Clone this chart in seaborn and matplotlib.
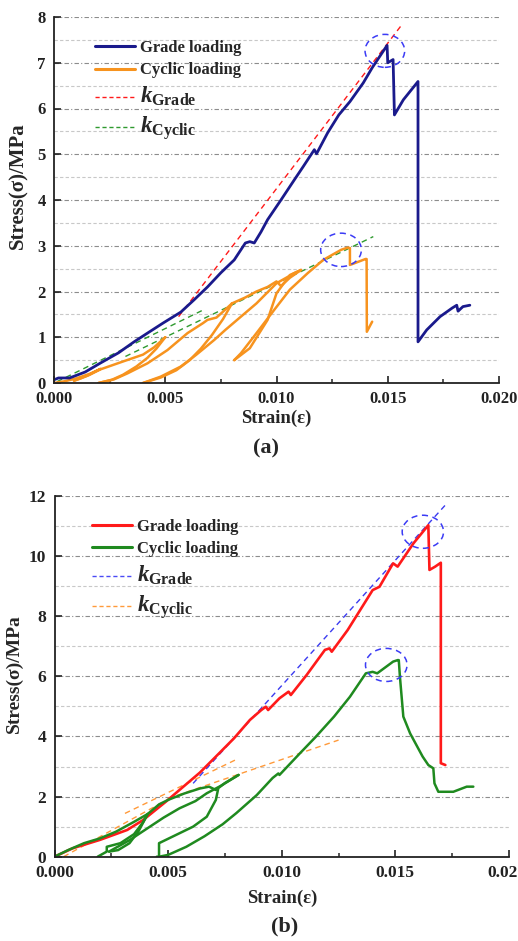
import numpy as np
import pandas as pd
import matplotlib
matplotlib.use("Agg")
import matplotlib.pyplot as plt
import matplotlib.transforms as mtransforms
from matplotlib.lines import Line2D
from matplotlib.patches import Ellipse
from matplotlib.ticker import MultipleLocator, FixedLocator, FixedFormatter
import seaborn as sns

# ---------------- data: panel (a) ----------------
a_grade_x = [0, 0.0002, 0.0007, 0.0014, 0.0021, 0.0029, 0.0036, 0.0042, 0.0049, 0.0057, 0.0063, 0.0069,
             0.0075, 0.0081, 0.0086, 0.0088, 0.0090, 0.0093, 0.0096, 0.0102, 0.0108, 0.0112, 0.0117, 0.0118,
             0.0123, 0.0128, 0.0133, 0.0139, 0.0143, 0.01497, 0.0150, 0.01524, 0.0153, 0.0157, 0.01636,
             0.01636, 0.01675, 0.01735, 0.0179, 0.0181, 0.01816, 0.01838, 0.01869]
a_grade_y = [0.07, 0.11, 0.11, 0.24, 0.44, 0.66, 0.90, 1.09, 1.31, 1.55, 1.82, 2.10,
             2.41, 2.69, 3.06, 3.09, 3.06, 3.30, 3.57, 4.00, 4.44, 4.73, 5.10, 5.01,
             5.47, 5.86, 6.15, 6.56, 6.89, 7.38, 7.00, 7.07, 5.86, 6.19, 6.59,
             0.90, 1.16, 1.45, 1.64, 1.70, 1.57, 1.67, 1.70]

a_cyc1_x = [0, 0.0005, 0.0010, 0.0016, 0.0021, 0.0016, 0.0012, 0.0009]
a_cyc1_y = [0, 0.04, 0.10, 0.20, 0.31, 0.18, 0.10, 0.05]
a_cyc2_x = [0.0009, 0.0015, 0.0021, 0.0031, 0.0040, 0.0045, 0.0050]
a_cyc2_y = [0.05, 0.16, 0.30, 0.47, 0.62, 0.78, 1.00]
a_cyc3_x = [0.0050, 0.0046, 0.0042, 0.0037, 0.0031, 0.0026, 0.0020]
a_cyc3_y = [1.00, 0.75, 0.55, 0.36, 0.18, 0.07, 0.0]
a_cyc4_x = [0.0020, 0.0027, 0.0033, 0.0042, 0.0051, 0.0060, 0.0067, 0.0069, 0.0073, 0.0076, 0.0080]
a_cyc4_y = [0, 0.08, 0.21, 0.43, 0.72, 1.09, 1.31, 1.38, 1.43, 1.56, 1.74]
a_cyc5_x = [0.0080, 0.0076, 0.0071, 0.0066, 0.0061, 0.0055, 0.0048, 0.0040]
a_cyc5_y = [1.74, 1.40, 1.05, 0.75, 0.50, 0.28, 0.12, 0.0]
a_cyc6_x = [0.0040, 0.0048, 0.0057, 0.0064, 0.0072, 0.0077, 0.0084, 0.0091, 0.0100, 0.0108, 0.0111]
a_cyc6_y = [0, 0.14, 0.36, 0.62, 0.94, 1.16, 1.45, 1.74, 2.18, 2.40, 2.47]
a_cyc7_x = [0.0080, 0.0086, 0.0091, 0.0096, 0.0100, 0.0102, 0.0106, 0.0111]
a_cyc7_y = [1.74, 1.87, 2.00, 2.10, 2.22, 2.12, 2.30, 2.47]
a_cyc8_x = [0.0111, 0.0106, 0.0100, 0.0096, 0.0088, 0.0081]
a_cyc8_y = [2.47, 2.36, 1.96, 1.38, 0.76, 0.50]
a_cyc9_x = [0.0081, 0.0084, 0.0091, 0.0099, 0.0106, 0.0114, 0.0121, 0.0129, 0.0132, 0.0133, 0.0133,
            0.0140, 0.01405, 0.01406, 0.0143]
a_cyc9_y = [0.50, 0.65, 1.09, 1.60, 2.04, 2.40, 2.69, 2.91, 2.96, 2.95, 2.58,
            2.71, 2.71, 1.12, 1.34]

a_kgrade_x = [0.0056, 0.0156]
a_kgrade_y = [1.45, 7.81]
a_kcyc1_x = [0.00014, 0.00672]
a_kcyc1_y = [0.03, 1.60]
a_kcyc2_x = [0.00321, 0.01435]
a_kcyc2_y = [0.58, 3.20]

# ---------------- data: panel (b) ----------------
b_grade_x = [0, 0.0008, 0.0020, 0.0032, 0.0039, 0.0049, 0.0055, 0.0064, 0.0071, 0.0079, 0.0086, 0.0091,
             0.0093, 0.0094, 0.0099, 0.0103, 0.0104, 0.0111, 0.0119, 0.0121, 0.0122, 0.0129, 0.0140,
             0.0143, 0.0149, 0.0151, 0.0158, 0.01645, 0.0165, 0.01675, 0.0170, 0.0170, 0.0172]
b_grade_y = [0, 0.28, 0.56, 0.89, 1.22, 1.83, 2.22, 2.80, 3.33, 3.94, 4.55, 4.88,
             4.99, 4.88, 5.27, 5.49, 5.38, 6.05, 6.88, 6.93, 6.82, 7.54, 8.87,
             8.98, 9.76, 9.65, 10.43, 11.03, 9.54, 9.65, 9.78, 3.11, 3.05]

b_cyc1_x = [0, 0.0006, 0.0013, 0.0020, 0.0027, 0.0035, 0.0041, 0.0046, 0.0050]
b_cyc1_y = [0, 0.22, 0.45, 0.61, 0.83, 1.16, 1.42, 1.74, 1.89]
b_cyc2_x = [0.0019, 0.0023, 0.0023, 0.0029, 0.0035, 0.0039, 0.0041]
b_cyc2_y = [0.0, 0.17, 0.33, 0.45, 0.75, 1.15, 1.42]
b_cyc3_x = [0.0041, 0.0037, 0.0033, 0.0028, 0.0024]
b_cyc3_y = [1.42, 0.85, 0.45, 0.22, 0.17]
b_cyc4_x = [0.0024, 0.0033, 0.0042, 0.0048, 0.0055, 0.0062, 0.0067, 0.0073, 0.0081]
b_cyc4_y = [0.17, 0.55, 1.00, 1.30, 1.61, 1.85, 2.11, 2.35, 2.72]
b_cyc5_x = [0.0050, 0.0057, 0.0064, 0.0068, 0.0071, 0.0075, 0.0081]
b_cyc5_y = [1.89, 2.10, 2.27, 2.33, 2.22, 2.45, 2.72]
b_cyc6_x = [0.0045, 0.0046, 0.0046, 0.0052, 0.0061, 0.0067, 0.0071, 0.0072]
b_cyc6_y = [0.0, 0.0, 0.45, 0.67, 1.00, 1.33, 1.89, 2.25]
b_cyc7_x = [0.0046, 0.0050, 0.0058, 0.0066, 0.0074, 0.0080, 0.0089, 0.0096, 0.00985, 0.0099, 0.0108,
            0.0115, 0.0123, 0.0130, 0.0137, 0.0140, 0.0142, 0.0149, 0.0151, 0.01515, 0.0152, 0.01535,
            0.01565, 0.0162, 0.01645, 0.01667, 0.01672, 0.01689, 0.01755, 0.01814, 0.01843]
b_cyc7_y = [0.0, 0.06, 0.33, 0.68, 1.08, 1.45, 2.05, 2.62, 2.77, 2.72, 3.44,
            3.99, 4.66, 5.32, 6.10, 6.15, 6.10, 6.49, 6.54, 6.54, 5.99, 4.66,
            4.10, 3.33, 3.05, 2.94, 2.44, 2.16, 2.16, 2.33, 2.33]

b_kgrade_x = [0.0061, 0.0172]
b_kgrade_y = [2.44, 11.7]
b_kcyc1_x = [0.0004, 0.0049]
b_kcyc1_y = [0.0, 1.87]
b_kcyc2_x = [0.0031, 0.0081]
b_kcyc2_y = [1.44, 3.27]
b_kcyc3_x = [0.0050, 0.0125]
b_kcyc3_y = [1.94, 3.88]

a_xticks = [0.000, 0.005, 0.010, 0.015, 0.020]
a_xticklabels = ["0.000", "0.005", "0.010", "0.015", "0.020"]
a_yticks = [0, 1, 2, 3, 4, 5, 6, 7, 8]
b_xticks = [0.000, 0.005, 0.010, 0.015, 0.020]
b_xticklabels = ["0.000", "0.005", "0.010", "0.015", "0.02"]
b_yticks = [0, 2, 4, 6, 8, 10, 12]

legend_labels = ["Grade loading", "Cyclic loading", r"$k_{\mathrm{Grade}}$", r"$k_{\mathrm{Cyclic}}$"]

# ---------------- style ----------------
sns.set_theme(style="white")
plt.rcParams["font.family"] = ["Liberation Serif", "DejaVu Serif"]
plt.rcParams["font.weight"] = "bold"
plt.rcParams["axes.labelweight"] = "bold"
plt.rcParams["mathtext.fontset"] = "custom"
plt.rcParams["mathtext.it"] = "Liberation Serif:italic:bold"
plt.rcParams["mathtext.rm"] = "Liberation Serif:bold"
plt.rcParams["mathtext.bf"] = "Liberation Serif:bold"

NAVY = "#1a1a8c"
ORANGE = "#f7931e"
RED = "#ff1a1a"
GREEN = "#1f8a1f"
CIRCLE = "#3b3bf5"


def segs(*pairs):
    frames = []
    for i, (xs, ys) in enumerate(pairs):
        frames.append(pd.DataFrame({"strain": xs, "stress": ys, "seg": i}))
    return pd.concat(frames, ignore_index=True)


def draw(ax, df, color, lw, ls="-"):
    sns.lineplot(data=df, x="strain", y="stress", units="seg", estimator=None, sort=False,
                 color=color, lw=lw, ls=ls, ax=ax, legend=False)


def style_axes(ax, ymax, yminor, xticks, xlabels, yticks, tsize, xlab_y, ylab_x, ylab_y, ylab_size):
    ax.set_xlim(0, 0.020)
    ax.set_ylim(0, ymax)
    for s in ["top", "right"]:
        ax.spines[s].set_visible(False)
    for s in ["left", "bottom"]:
        ax.spines[s].set_color("#222222")
        ax.spines[s].set_linewidth(1.3)
    ax.xaxis.set_major_locator(FixedLocator(xticks))
    ax.xaxis.set_major_formatter(FixedFormatter(xlabels))
    ax.xaxis.set_minor_locator(MultipleLocator(0.0025))
    ax.yaxis.set_major_locator(FixedLocator(yticks))
    ax.yaxis.set_minor_locator(MultipleLocator(yminor))
    ax.tick_params(axis="both", which="major", direction="in", length=5, width=1.2,
                   labelsize=tsize, colors="#222222", pad=6, bottom=True, left=True)
    ax.tick_params(axis="x", which="minor", direction="in", length=3, width=1.1, bottom=True)
    ax.tick_params(axis="y", which="minor", length=0)
    for lab in ax.get_xticklabels() + ax.get_yticklabels():
        lab.set_fontweight("bold")
    ax.yaxis.grid(True, which="major", color="#8c8c8c", lw=0.8, ls=(0, (4, 2, 1, 2)))
    ax.yaxis.grid(True, which="minor", color="#c8c8c8", lw=0.8, ls=(0, (3, 2)))
    ax.xaxis.grid(False)
    ax.set_axisbelow(True)
    ax.set_xlabel("Strain(ε)", fontsize=13.5, fontweight="bold", va="center")
    ax.xaxis.set_label_coords(0.5, xlab_y)
    ax.set_ylabel("Stress(σ)/MPa", fontsize=ylab_size, fontweight="bold", va="center")
    ax.yaxis.set_label_coords(ylab_x, ylab_y)


def add_legend(ax, colors, styles, anchor):
    handles = []
    for c, s in zip(colors, styles):
        if s == "-":
            handles.append(Line2D([], [], color=c, lw=2.2, ls="-"))
        else:
            handles.append(Line2D([], [], color=c, lw=1.0, ls=(0, (3, 2))))
    leg = ax.legend(handles, legend_labels, loc="upper left", bbox_to_anchor=anchor, frameon=False,
                    prop={"family": "Liberation Serif", "weight": "bold", "size": 12},
                    handlelength=2.4, handletextpad=0.3, labelspacing=0.38,
                    borderpad=0, borderaxespad=0)
    for t in leg.get_texts()[2:]:
        t.set_fontsize(16.5)
    return leg


W, H = 518, 941
fig = plt.figure(figsize=(W / 100, H / 100), dpi=100)
fig.patch.set_facecolor("white")

# ---------------- panel (a) ----------------
ax1 = fig.add_axes([54 / W, 1 - 383 / H, 445 / W, 366 / H])
draw(ax1, segs((a_kgrade_x, a_kgrade_y)), RED, 1.0, (0, (4, 3)))
draw(ax1, segs((a_kcyc1_x, a_kcyc1_y), (a_kcyc2_x, a_kcyc2_y)), "#2f9a2f", 1.0, (0, (4, 3)))
draw(ax1, segs((a_cyc1_x, a_cyc1_y), (a_cyc2_x, a_cyc2_y), (a_cyc3_x, a_cyc3_y), (a_cyc4_x, a_cyc4_y),
               (a_cyc5_x, a_cyc5_y), (a_cyc6_x, a_cyc6_y), (a_cyc7_x, a_cyc7_y), (a_cyc8_x, a_cyc8_y),
               (a_cyc9_x, a_cyc9_y)), ORANGE, 1.8)
draw(ax1, segs((a_grade_x, a_grade_y)), NAVY, 2.0)

gi = int(np.argmax(a_grade_y))
ax1.add_patch(Ellipse((a_grade_x[gi] - 0.0001, a_grade_y[gi] - 0.12), 0.00178, 0.72, fill=False,
                      ec=CIRCLE, lw=1.1, ls=(0, (4, 3)), zorder=5))
ax1.add_patch(Ellipse((a_cyc9_x[8] - 0.0003, a_cyc9_y[8] - 0.05), 0.00183, 0.73, fill=False,
                      ec=CIRCLE, lw=1.1, ls=(0, (4, 3)), zorder=5))

style_axes(ax1, 8, 0.5, a_xticks, a_xticklabels, a_yticks, 12, -0.096, -0.079, 0.54, 15)
add_legend(ax1, [NAVY, ORANGE, RED, "#2f9a2f"], ["-", "-", "--", "--"], (0.092, 0.937))
fig.text(266 / W, 1 - 448 / H, "(a)", ha="center", va="center", fontsize=16, fontweight="bold")

# ---------------- panel (b) ----------------
ax2 = fig.add_axes([54.5 / W, 1 - 856.7 / H, 454.5 / W, 360.7 / H])
draw(ax2, segs((b_kgrade_x, b_kgrade_y)), "#3b3bf0", 1.0, (0, (4, 3)))
draw(ax2, segs((b_kcyc1_x, b_kcyc1_y), (b_kcyc2_x, b_kcyc2_y), (b_kcyc3_x, b_kcyc3_y)), "#ff9a3a", 1.0, (0, (4, 3)))
draw(ax2, segs((b_grade_x, b_grade_y)), RED, 1.9)
draw(ax2, segs((b_cyc1_x, b_cyc1_y), (b_cyc2_x, b_cyc2_y), (b_cyc3_x, b_cyc3_y), (b_cyc4_x, b_cyc4_y),
               (b_cyc5_x, b_cyc5_y), (b_cyc6_x, b_cyc6_y), (b_cyc7_x, b_cyc7_y)), GREEN, 1.8)

ri = int(np.argmax(b_grade_y))
ax2.add_patch(Ellipse((b_grade_x[ri] - 0.00024, b_grade_y[ri] - 0.22), 0.00182, 1.1, fill=False,
                      ec=CIRCLE, lw=1.1, ls=(0, (4, 3)), zorder=5))
ci = int(np.argmax(b_cyc7_y))
ax2.add_patch(Ellipse((b_cyc7_x[ci] - 0.0005, b_cyc7_y[ci] - 0.16), 0.00183, 1.1, fill=False,
                      ec=CIRCLE, lw=1.1, ls=(0, (4, 3)), zorder=5))

style_axes(ax2, 12, 1, b_xticks, b_xticklabels, b_yticks, 12.5, -0.115, -0.089, 0.507, 14)
add_legend(ax2, [RED, GREEN, "#4a4af5", "#ff9a3a"], ["-", "-", "--", "--"], (0.083, 0.937))
fig.text(285 / W, 1 - 926.7 / H, "(b)", ha="center", va="center", fontsize=16, fontweight="bold")

# keep the last bottom tick label inside the canvas (it sits at the right edge in the reference)
last_lab = ax2.get_xticklabels()[-1]
last_lab.set_transform(last_lab.get_transform() +
                       mtransforms.ScaledTranslation(-6 / 100, 0, fig.dpi_scale_trans))

fig.savefig("out.png", dpi=100, facecolor="white")
